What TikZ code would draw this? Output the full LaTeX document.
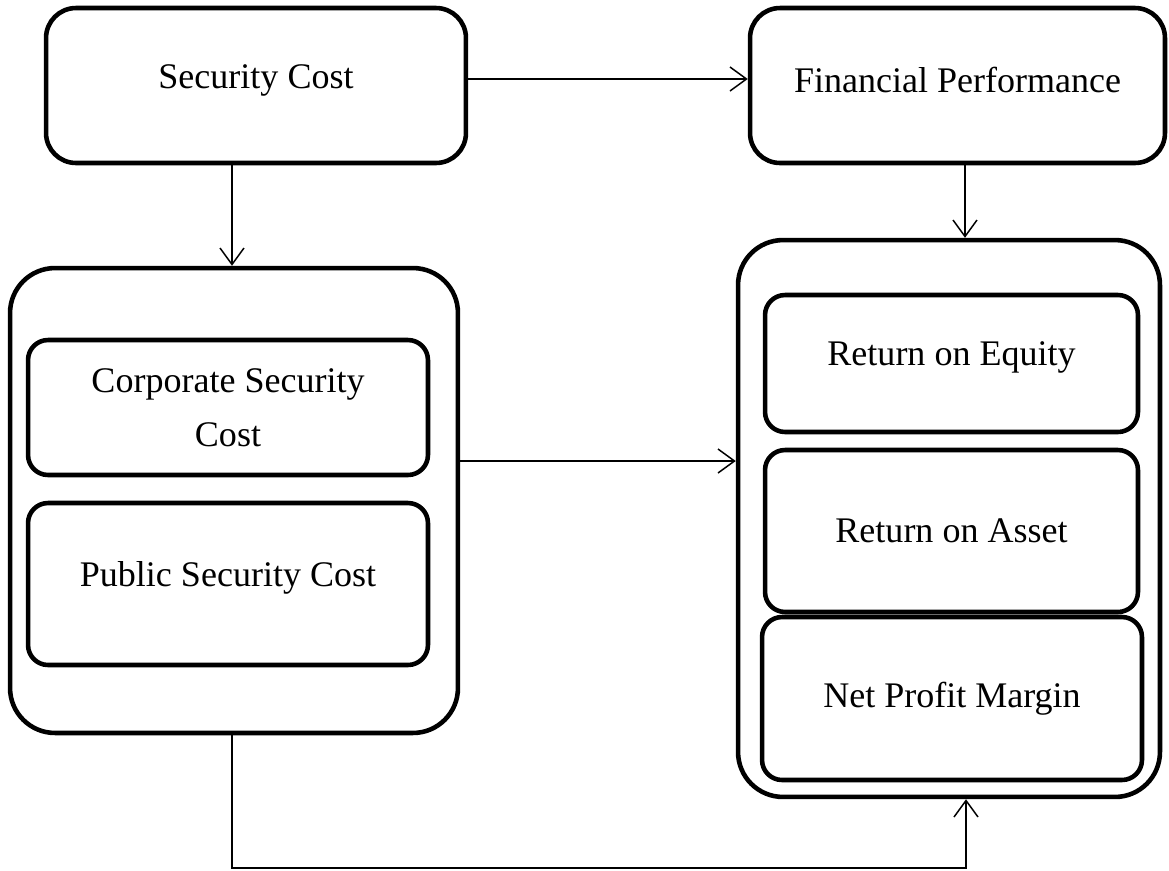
\documentclass[tikz,border=0pt]{standalone}
\usepackage{fontspec}
\setmainfont{Liberation Serif}
\usepackage{tikz}
\usetikzlibrary{arrows.meta,positioning}

\tikzset{
  bigbox/.style={draw,line width=2.6pt,rounded corners=0.9cm,inner sep=0pt},
  topbox/.style={draw,line width=2.6pt,rounded corners=0.6cm,inner sep=0pt,
    minimum width=8.4cm,minimum height=3.1cm,align=center},
  itembox/.style={draw,line width=2.6pt,rounded corners=0.4cm,inner sep=0pt,align=center},
  link/.style={line width=0.85pt,-{Straight Barb[length=3.3mm,width=4.8mm]}}
}

\begin{document}
\begin{tikzpicture}[x=0.02cm,y=-0.02cm,font=\fontsize{20.5}{31}\selectfont]
\useasboundingbox (0,0) rectangle (1169,870);

% top row
\node[topbox] (cost) at (256,85.5) {};
\node (costtext) at (256,80) {Security Cost};
\node[topbox,minimum width=8.3cm] (perf) at (957.5,85.5) {};
\node (perftext) at (957.5,80) {Financial Performance};

% left group: kinds of security cost
\node[bigbox,minimum width=8.96cm,minimum height=9.3cm] (costgrp) at (234,500.5) {};
\node[itembox,minimum width=8cm,minimum height=2.7cm] (corp) at (228,407.5) {Corporate Security\\Cost};
\node[itembox,minimum width=8cm,minimum height=3.24cm] (pub) at (228,584) {};
\node (pubtext) at (228,578) {Public Security Cost};

% right group: performance measures
\node[bigbox,minimum width=8.44cm,minimum height=11.14cm] (perfgrp) at (949,518.5) {};
\node[itembox,minimum width=7.46cm,minimum height=2.74cm] (roe) at (951.5,363.5) {};
\node (roetext) at (951.5,357) {Return on Equity};
\node[itembox,minimum width=7.46cm,minimum height=3.24cm] (roa) at (951.5,531) {Return on Asset};
\node[itembox,minimum width=7.6cm,minimum height=3.26cm] (npm) at (952,698.5) {Net Profit Margin};

% connectors
\coordinate (down) at (232,868);
\coordinate (across) at (966,868);
\draw[link] (cost.east |- 0,79) -- (perf.west |- 0,79);
\draw[link] (cost.south -| 232,0) -- (costgrp.north -| 232,0);
\draw[link] (perf.south -| 965,0) -- (perfgrp.north -| 965,0);
\draw[link] (costgrp.east |- 0,461) -- (perfgrp.west |- 0,461);
\draw[link] (costgrp.south -| down) -- (down) -- (across) -- (perfgrp.south -| across);
\end{tikzpicture}
\end{document}
